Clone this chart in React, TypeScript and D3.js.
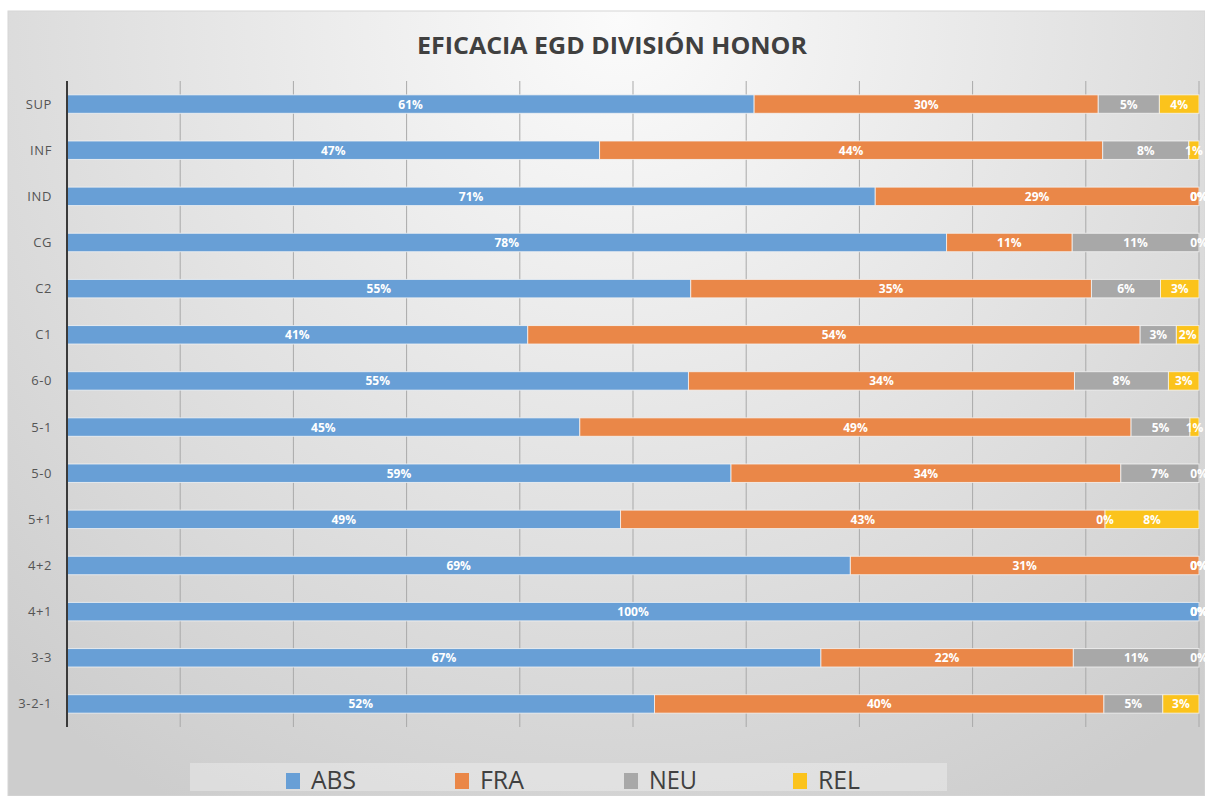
import * as React from 'react';
import * as d3 from 'd3';

const categories = ['SUP', 'INF', 'IND', 'CG', 'C2', 'C1', '6-0', '5-1', '5-0', '5+1', '4+2', '4+1', '3-3', '3-2-1'];
const seriesNames = ['ABS', 'FRA', 'NEU', 'REL'];
const absValues = [60.7, 47.0, 71.4, 77.7, 55.1, 40.7, 54.9, 45.3, 58.6, 48.9, 69.2, 100, 66.6, 51.9];
const fraValues = [30.4, 44.4, 28.6, 11.1, 35.4, 54.1, 34.1, 48.7, 34.4, 42.8, 30.8, 0, 22.3, 39.7];
const neuValues = [5.4, 7.6, 0, 11.2, 6.1, 3.2, 8.3, 5.2, 6.9, 0, 0, 0, 11.1, 5.2];
const relValues = [3.5, 0.9, 0, 0, 3.4, 2.0, 2.7, 0.8, 0, 8.3, 0, 0, 0, 3.2];
const xTicks = [0, 0.1, 0.2, 0.3, 0.4, 0.5, 0.6, 0.7, 0.8, 0.9, 1];

const colors = ['#689fd6', '#ea8748', '#a8a8a8', '#fbc31c'];
const font = '"Open Sans", "Liberation Sans", sans-serif';

const App = () => {
  const ref = React.useRef<SVGSVGElement>(null);

  React.useEffect(() => {
    const svg = d3.select(ref.current);
    svg.selectAll('*').remove();

    const rows = categories.map((c, i) => ({
      cat: c,
      ABS: absValues[i],
      FRA: fraValues[i],
      NEU: neuValues[i],
      REL: relValues[i],
    }));

    // background
    const defs = svg.append('defs');
    const grad = defs.append('radialGradient')
      .attr('id', 'bg')
      .attr('gradientUnits', 'userSpaceOnUse')
      .attr('cx', 620).attr('cy', 20).attr('r', 900)
      .attr('fx', 620).attr('fy', 20);
    grad.append('stop').attr('offset', '0%').attr('stop-color', '#fbfbfb');
    grad.append('stop').attr('offset', '100%').attr('stop-color', '#cdcdcd');

    svg.append('rect')
      .attr('x', 8).attr('y', 11)
      .attr('width', 1197).attr('height', 785)
      .attr('fill', 'url(#bg)')
      .attr('stroke', '#d6d6d6');

    svg.append('text')
      .attr('x', 612).attr('y', 54)
      .attr('text-anchor', 'middle')
      .attr('font-family', font)
      .attr('font-weight', 'bold')
      .attr('font-size', 23)
      .attr('fill', '#404040')
      .attr('textLength', 390)
      .attr('lengthAdjust', 'spacingAndGlyphs')
      .text('EFICACIA EGD DIVISIÓN HONOR');

    const x = d3.scaleLinear().domain([0, 1]).range([67, 1199]);
    const y = d3.scaleBand().domain(categories).range([81, 727])
      .paddingInner(0.6).paddingOuter(0.3);

    // gridlines
    svg.append('g')
      .selectAll('line')
      .data(xTicks.slice(1))
      .join('line')
      .attr('x1', (d) => x(d)).attr('x2', (d) => x(d))
      .attr('y1', 81).attr('y2', 727)
      .attr('stroke', '#a9a9a9')
      .attr('stroke-width', 1);

    const stack = d3.stack<any>().keys(seriesNames).offset(d3.stackOffsetExpand);
    const series = stack(rows);

    const layers = svg.append('g')
      .selectAll('g')
      .data(series)
      .join('g')
      .attr('fill', (d, i) => colors[i]);

    layers.selectAll('rect')
      .data((d) => d)
      .join('rect')
      .attr('x', (d) => x(d[0]))
      .attr('y', (d: any) => y(d.data.cat))
      .attr('width', (d) => Math.max(0, x(d[1]) - x(d[0])))
      .attr('height', y.bandwidth())
      .attr('stroke', '#f4f4f4')
      .attr('stroke-width', 1)
      .attr('stroke-opacity', (d) => (d[1] - d[0] > 0 ? 0.8 : 0));

    // value labels
    const labels = svg.append('g');
    series.forEach((s) => {
      labels.selectAll(null)
        .data(s)
        .join('text')
        .attr('x', (d) => (x(d[0]) + x(d[1])) / 2)
        .attr('y', (d: any) => y(d.data.cat) + y.bandwidth() / 2 + 4.5)
        .attr('text-anchor', 'middle')
        .attr('font-family', font)
        .attr('font-weight', 'bold')
        .attr('font-size', 12)
        .attr('fill', '#ffffff')
        .text((d: any) => `${Math.round(d.data[s.key])}%`);
    });

    // axis line
    svg.append('line')
      .attr('x1', 67).attr('x2', 67)
      .attr('y1', 81).attr('y2', 727)
      .attr('stroke', '#3a3a3a')
      .attr('stroke-width', 2);

    svg.append('g')
      .selectAll('text')
      .data(categories)
      .join('text')
      .attr('x', 52)
      .attr('y', (d) => y(d) + y.bandwidth() / 2 + 4.5)
      .attr('text-anchor', 'end')
      .attr('font-family', font)
      .attr('font-size', 13)
      .attr('fill', '#555555')
      .attr('letter-spacing', 0.6)
      .text((d) => d);

    // legend
    svg.append('rect')
      .attr('x', 190).attr('y', 763)
      .attr('width', 757).attr('height', 28)
      .attr('fill', '#ffffff')
      .attr('fill-opacity', 0.3);

    const legendX = d3.scalePoint().domain(seriesNames).range([286, 793]);
    const legendWidths = [45, 44, 48, 42];
    const items = svg.append('g')
      .selectAll('g')
      .data(seriesNames)
      .join('g')
      .attr('transform', (d) => `translate(${legendX(d)}, 773)`);
    items.append('rect')
      .attr('width', 14).attr('height', 16)
      .attr('fill', (d, i) => colors[i]);
    items.append('text')
      .attr('x', 25).attr('y', 16)
      .attr('font-family', font)
      .attr('font-size', 25)
      .attr('fill', '#404040')
      .attr('textLength', (d, i) => legendWidths[i])
      .attr('lengthAdjust', 'spacingAndGlyphs')
      .text((d) => d);
  }, []);

  return (
    <svg
      ref={ref}
      width={1205}
      height={796}
      style={{ position: 'absolute', left: 0, top: 0 }}
    />
  );
};

export default App;
